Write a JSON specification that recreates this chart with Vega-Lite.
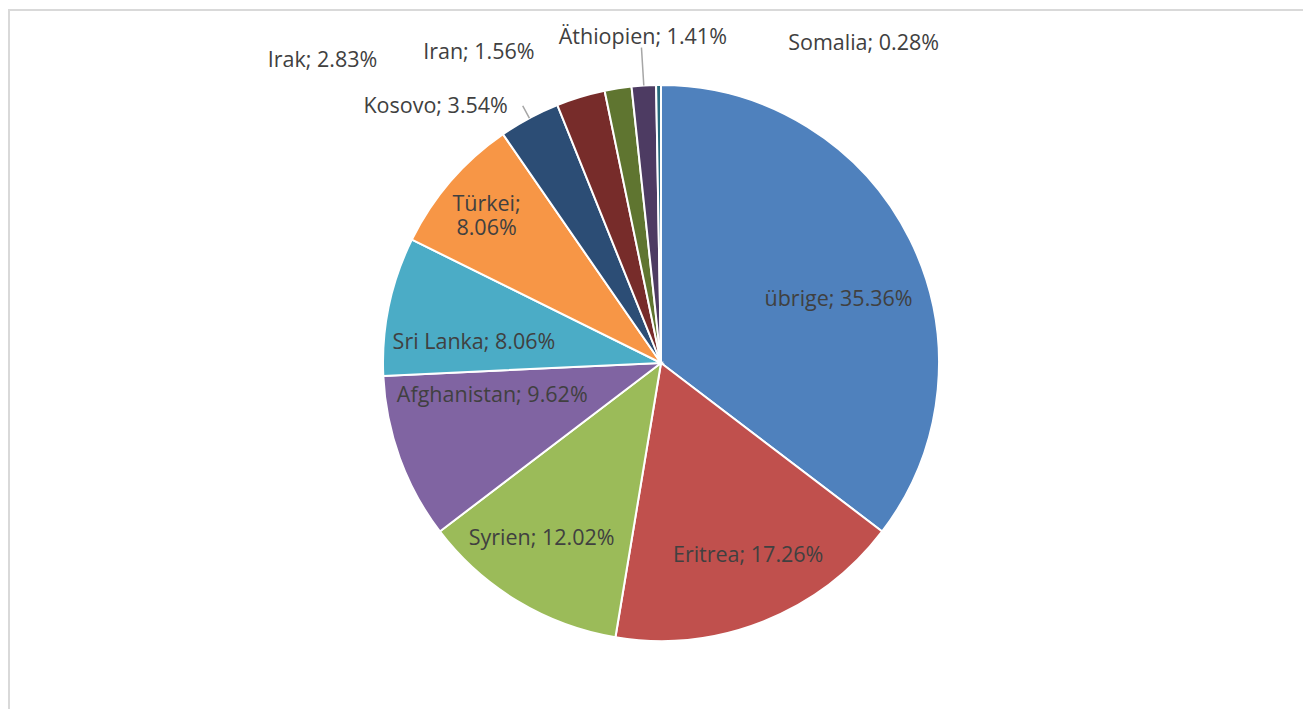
{
  "$schema": "https://vega.github.io/schema/vega-lite/v6.json",
  "width": 1304,
  "height": 706,
  "padding": {"left": 9, "top": 10, "right": 0, "bottom": 0},
  "background": "white",
  "view": {"stroke": "#d9d9d9", "strokeWidth": 2, "fill": "white"},
  "config": {"view": {"stroke": "#d9d9d9", "strokeWidth": 2}},
  "data": {"values": [
    {"land": "übrige", "anteil": 35.36, "rang": 1},
    {"land": "Eritrea", "anteil": 17.26, "rang": 2},
    {"land": "Syrien", "anteil": 12.02, "rang": 3},
    {"land": "Afghanistan", "anteil": 9.62, "rang": 4},
    {"land": "Sri Lanka", "anteil": 8.06, "rang": 5},
    {"land": "Türkei", "anteil": 8.06, "rang": 6},
    {"land": "Kosovo", "anteil": 3.54, "rang": 7},
    {"land": "Irak", "anteil": 2.83, "rang": 8},
    {"land": "Iran", "anteil": 1.56, "rang": 9},
    {"land": "Äthiopien", "anteil": 1.41, "rang": 10},
    {"land": "Somalia", "anteil": 0.28, "rang": 11}
  ]},
  "transform": [
    {"calculate": "datum.land + '; ' + format(datum.anteil, '.2f') + '%'", "as": "label"}
  ],
  "encoding": {
    "theta": {"field": "anteil", "type": "quantitative", "stack": true},
    "order": {"field": "rang", "type": "quantitative"}
  },
  "layer": [
    {
      "mark": {"type": "arc", "radius": 278, "stroke": "white", "strokeWidth": 2},
      "encoding": {
        "color": {
          "field": "land", "type": "nominal", "legend": null,
          "scale": {
            "domain": ["übrige", "Eritrea", "Syrien", "Afghanistan", "Sri Lanka", "Türkei", "Kosovo", "Irak", "Iran", "Äthiopien", "Somalia"],
            "range": ["#4F81BD", "#C0504D", "#9BBB59", "#8064A2", "#4BACC6", "#F79646", "#2C4D75", "#772C2A", "#5F7530", "#4D3B62", "#276A7C"]
          }
        }
      }
    },
    {
      "mark": {"type": "arc", "radius": 292, "radius2": 278, "padAngle": 3, "fillOpacity": 0, "stroke": "#a6a6a6", "strokeWidth": 1.5},
      "encoding": {"strokeOpacity": {"condition": {"test": "datum.land === 'Kosovo'", "value": 1}, "value": 0}}
    },
    {
      "mark": {"type": "arc", "radius": 316, "radius2": 278, "padAngle": 3, "fillOpacity": 0, "stroke": "#a6a6a6", "strokeWidth": 1.5},
      "encoding": {"strokeOpacity": {"condition": {"test": "datum.land === 'Äthiopien'", "value": 1}, "value": 0}}
    },
    {
      "mark": {"type": "text", "radius": 187, "dx": 10, "dy": 20, "font": "Open Sans", "fontSize": 21.5, "fill": "#404040"},
      "encoding": {"text": {"condition": {"test": "datum.land === 'übrige'", "field": "label", "type": "nominal"}, "value": ""}}
    },
    {
      "mark": {"type": "text", "radius": 212, "dx": 9, "dy": -4, "font": "Open Sans", "fontSize": 21.5, "fill": "#404040"},
      "encoding": {"text": {"condition": {"test": "datum.land === 'Eritrea'", "field": "label", "type": "nominal"}, "value": ""}}
    },
    {
      "mark": {"type": "text", "radius": 212, "dx": -10, "dy": -6, "font": "Open Sans", "fontSize": 21.5, "fill": "#404040"},
      "encoding": {"text": {"condition": {"test": "datum.land === 'Syrien'", "field": "label", "type": "nominal"}, "value": ""}}
    },
    {
      "mark": {"type": "text", "radius": 170, "dx": -9, "dy": -25, "font": "Open Sans", "fontSize": 21.5, "fill": "#404040"},
      "encoding": {"text": {"condition": {"test": "datum.land === 'Afghanistan'", "field": "label", "type": "nominal"}, "value": ""}}
    },
    {
      "mark": {"type": "text", "radius": 187, "dx": -4, "dy": 18, "font": "Open Sans", "fontSize": 21.5, "fill": "#404040"},
      "encoding": {"text": {"condition": {"test": "datum.land === 'Sri Lanka'", "field": "label", "type": "nominal"}, "value": ""}}
    },
    {
      "mark": {"type": "text", "radius": 228, "dx": -2, "dy": -9, "font": "Open Sans", "fontSize": 21.5, "fill": "#404040", "lineBreak": " ", "lineHeight": 24},
      "encoding": {"text": {"condition": {"test": "datum.land === 'Türkei'", "field": "label", "type": "nominal"}, "value": ""}}
    },
    {
      "mark": {"type": "text", "radius": 298, "dx": -12, "dy": 6, "align": "right", "font": "Open Sans", "fontSize": 21.5, "fill": "#404040"},
      "encoding": {"text": {"condition": {"test": "datum.land === 'Kosovo'", "field": "label", "type": "nominal"}, "value": ""}}
    },
    {
      "mark": {"type": "text", "radius": 300, "dx": -197, "dy": -15, "align": "right", "font": "Open Sans", "fontSize": 21.5, "fill": "#404040"},
      "encoding": {"text": {"condition": {"test": "datum.land === 'Irak'", "field": "label", "type": "nominal"}, "value": ""}}
    },
    {
      "mark": {"type": "text", "radius": 300, "dx": -80, "dy": -14, "align": "right", "font": "Open Sans", "fontSize": 21.5, "fill": "#404040"},
      "encoding": {"text": {"condition": {"test": "datum.land === 'Iran'", "field": "label", "type": "nominal"}, "value": ""}}
    },
    {
      "mark": {"type": "text", "radius": 326, "dx": 2, "dy": 0, "align": "center", "font": "Open Sans", "fontSize": 21.5, "fill": "#404040"},
      "encoding": {"text": {"condition": {"test": "datum.land === 'Äthiopien'", "field": "label", "type": "nominal"}, "value": ""}}
    },
    {
      "mark": {"type": "text", "radius": 319, "dx": 130, "dy": 0, "align": "left", "font": "Open Sans", "fontSize": 21.5, "fill": "#404040"},
      "encoding": {"text": {"condition": {"test": "datum.land === 'Somalia'", "field": "label", "type": "nominal"}, "value": ""}}
    }
  ]
}
